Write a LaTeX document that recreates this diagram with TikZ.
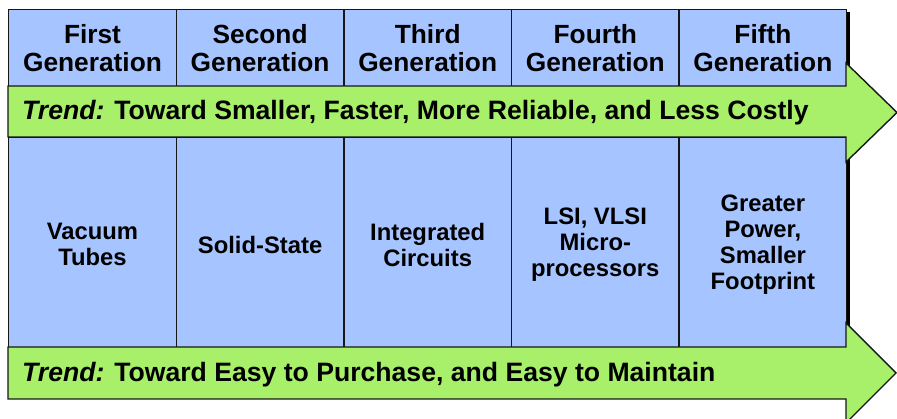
\documentclass[tikz,border=0pt]{standalone}
\usepackage{fontspec}
\setmainfont{Liberation Sans}
\definecolor{boxblue}{RGB}{166,196,255}
\definecolor{bandgreen}{RGB}{168,240,106}
\definecolor{edge}{RGB}{22,22,22}
\begin{document}
\begin{tikzpicture}[x=1pt,y=-1pt,
  cell/.style={draw=edge, line width=1.4pt, fill=boxblue, inner sep=0pt,
    minimum width=167.6pt, align=center, anchor=north west},
  hdr/.style={cell, minimum height=77pt,
    font=\fontsize{26.3}{28.8}\selectfont\bfseries},
  mid/.style={cell, minimum height=210pt},
  midtext/.style={inner sep=0pt, align=center, yshift=-2pt,
    font=\fontsize{23.8}{26}\selectfont\bfseries},
  band/.style={draw=edge, line width=1.4pt, fill=bandgreen, line join=miter},
  trend/.style={inner sep=0pt, anchor=base west,
    font=\fontsize{26.6}{30}\selectfont\bfseries},
  shade/.style={fill=black}]
\useasboundingbox (0,0) rectangle (897,419);

% drop shadows behind the two rows of cells
\fill[shade] (11,12) rectangle (850,89);
\fill[shade] (11,140) rectangle (850,350);

% generation headers
\node[hdr] (h1) at (8,9)     {First\\Generation};
\node[hdr] (h2) at (175.6,9) {Second\\Generation};
\node[hdr] (h3) at (343.2,9) {Third\\Generation};
\node[hdr] (h4) at (510.8,9) {Fourth\\Generation};
\node[hdr] (h5) at (678.4,9) {Fifth\\Generation};

% technology cells and their labels
\node[mid] (m1) at (8,137)     {};
\node[mid] (m2) at (175.6,137) {};
\node[mid] (m3) at (343.2,137) {};
\node[mid] (m4) at (510.8,137) {};
\node[mid] (m5) at (678.4,137) {};
\node[midtext] (l1) at (m1.center) {Vacuum\\Tubes};
\node[midtext] (l2) at (m2.center) {Solid-State};
\node[midtext] (l3) at (m3.center) {Integrated\\Circuits};
\node[midtext] (l4) at (m4.center) {LSI, VLSI\\Micro-\\processors};
\node[midtext] (l5) at (m5.center) {Greater\\Power,\\Smaller\\Footprint};

% trend arrows
\draw[band] (8,86) -- (846,86) -- (846,63) -- (897,112.5) -- (846,162)
  -- (846,137) -- (8,137) -- cycle;
\draw[band] (8,347) -- (846,347) -- (846,323) -- (896,373) -- (846,423)
  -- (846,399) -- (8,399) -- cycle;

\node[trend] (t1) at (22,119.5)
  {{\itshape Trend:} Toward Smaller, Faster, More Reliable, and Less Costly};
\node[trend] (t2) at (22,381.5)
  {{\itshape Trend:} Toward Easy to Purchase, and Easy to Maintain};
\end{tikzpicture}
\end{document}
